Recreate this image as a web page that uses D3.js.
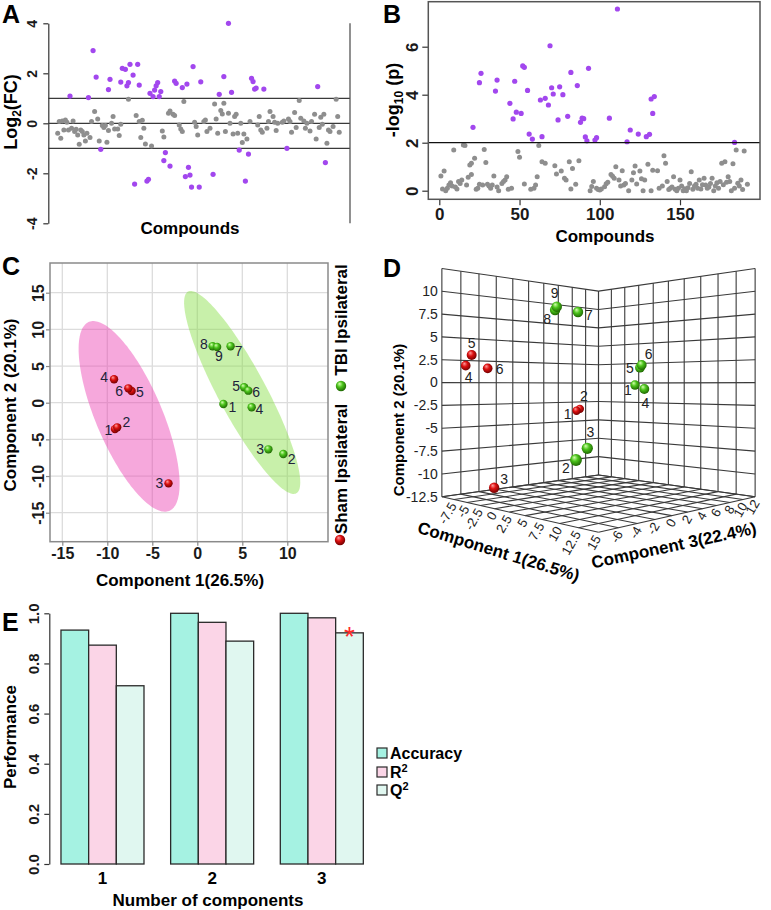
<!DOCTYPE html>
<html><head><meta charset="utf-8">
<script src="https://cdn.jsdelivr.net/npm/d3@7"></script>
<style>
body{margin:0;background:#fff;}
svg text{font-family:"Liberation Sans",Arial,sans-serif;}
</style></head><body>
<svg id="fig" width="771" height="910"></svg>
<script>
// ================= DATA =================
// Panel A: log2 fold change per compound [compound index, log2FC]
const aPurple = [[13,1.09],[28,2.91],[30,1.85],[25,1.03],[33,-1.04],[39,1.76],[38,1.35],[47,2.2],[49,2.16],[46,1.65],[52,2.36],[57,2.36],[54,1.93],[51,1.63],[50,1.5],[58,1.53],[55,-2.43],[63,-2.31],[64,-2.24],[65,1.2],[67,1.07],[68,1.33],[69,1.5],[70,1.63],[72,1.27],[71,1.07],[75,-1.17],[74,-1.49],[78,-1.71],[81,1.69],[82,1.6],[86,1.43],[89,1.57],[93,2.27],[90,-1.76],[88,-2.13],[91,-2.07],[92,-2.55],[97,-2.55],[98,1.66],[106,-2.04],[116,4.0],[113,1.87],[110,1.16],[118,1.24],[123,-1.07],[129,-1.23],[127,-2.31],[131,1.8],[132,1.67],[133,1.37],[134,1.41],[139,1.37],[154,-1.0],[174,1.47],[179,-1.57]];
const aGray = [[5,-0.4],[7,-0.6],[6,0.07],[8,0.09],[10,0.13],[11,0.04],[9,-0.27],[12,-0.27],[14,-0.2],[15,0.09],[16,-0.33],[17,-0.24],[18,-0.47],[19,-0.84],[20,-0.27],[21,-0.33],[22,-0.47],[23,-0.71],[24,-0.4],[26,-0.57],[27,0.07],[29,0.47],[31,0.17],[32,-0.71],[34,-0.09],[35,-0.17],[36,-0.09],[37,-0.76],[38,-0.29],[40,0.0],[41,0.27],[42,-0.23],[44,-0.23],[45,-0.49],[46,-0.04],[51,0.96],[56,0.31],[58,0.07],[60,0.12],[59,-0.57],[61,-0.2],[62,-0.83],[66,-0.91],[73,-0.31],[74,-0.55],[77,0.4],[78,0.49],[80,0.36],[81,0.31],[84,-0.07],[85,-0.23],[86,-0.33],[87,0.87],[94,0.04],[95,-0.13],[96,-0.47],[100,0.07],[101,0.13],[102,-0.33],[104,-0.2],[107,0.77],[108,0.17],[109,-0.4],[111,0.51],[113,0.8],[112,0.37],[114,-0.33],[116,0.4],[117,0.0],[120,0.27],[121,0.36],[119,-0.43],[122,-0.4],[125,-0.77],[124,0.0],[126,-0.43],[128,-0.63],[130,0.07],[135,-0.07],[136,0.27],[137,-0.27],[138,-0.36],[141,-0.2],[143,0.47],[142,0.07],[145,0.27],[146,0.04],[147,-0.29],[148,0.0],[151,0.04],[152,0.09],[155,0.17],[156,0.07],[157,-0.36],[159,0.43],[160,-0.17],[162,0.91],[163,0.2],[165,0.09],[166,-0.2],[167,0.0],[169,-0.31],[170,0.07],[172,0.36],[173,-0.63],[175,-0.17],[176,0.24],[178,0.36],[177,-0.04],[180,-0.8],[181,-0.27],[182,-0.33],[184,-0.13],[186,0.96],[187,0.27],[188,-0.36]];
const aThresholds = [-1, 0, 1];
const aTicks = [-4, -2, 0, 2, 4];

// Panel B: -log10(p) per compound [compound index, -log10 p]
const bPurple = [[21,2.64],[25,4.5],[26,4.89],[36,4.61],[35,4.15],[44,3.64],[46,2.99],[48,3.27],[47,4.56],[51,3.22],[52,5.2],[53,5.14],[55,4.18],[56,2.36],[58,2.15],[63,3.78],[64,2.25],[66,3.85],[68,3.57],[69,6.04],[70,4.29],[71,4.03],[74,2.95],[75,4.33],[77,4.0],[80,3.1],[82,4.93],[86,4.38],[89,3.02],[90,3.0],[88,2.85],[93,5.1],[91,2.24],[92,2.08],[97,2.11],[98,2.21],[106,3.02],[111,7.57],[117,2.04],[119,2.53],[124,2.36],[129,2.25],[131,2.35],[132,3.82],[134,3.92],[133,3.22],[184,2.01]];
const bGray = [[1,0.61],[3,0.82],[2,0.07],[4,0.0],[6,0.24],[7,0.33],[9,1.7],[8,0.2],[11,0.07],[12,0.38],[14,0.45],[15,1.9],[16,1.88],[17,0.24],[18,0.56],[19,1.07],[20,0.68],[20,1.14],[22,1.35],[23,0.06],[25,0.27],[27,0.24],[28,1.72],[29,1.17],[30,0.27],[32,0.1],[34,0.61],[33,0.24],[37,0.0],[39,0.3],[40,0.38],[41,0.45],[42,0.58],[43,0.06],[49,1.63],[50,1.39],[53,0.28],[57,0.06],[60,0.24],[61,0.58],[62,1.88],[64,1.21],[66,1.14],[72,1.04],[73,0.7],[76,0.82],[78,0.52],[79,0.45],[81,1.21],[83,0.93],[85,0.27],[87,1.25],[82,0.07],[94,0.0],[95,0.17],[96,0.38],[100,0.03],[101,0.07],[103,0.16],[104,0.29],[107,0.68],[109,0.52],[110,1.0],[112,0.45],[114,0.83],[115,0.24],[118,0.0],[120,0.45],[121,0.75],[122,1.03],[123,0.28],[125,0.82],[127,0.0],[128,0.45],[130,1.1],[132,0.0],[136,0.83],[137,0.1],[140,1.46],[141,1.14],[142,0.38],[144,0.1],[146,0.58],[147,0.06],[148,0.0],[150,0.45],[152,0.0],[154,0.0],[157,0.79],[158,0.06],[160,0.27],[162,0.45],[163,0.07],[165,0.52],[166,0.24],[168,0.15],[170,0.52],[171,0.0],[173,0.33],[175,0.38],[176,1.14],[178,1.21],[180,0.58],[181,0.38],[182,0.0],[183,1.12],[185,1.7],[186,0.31],[188,0.45],[190,1.65],[192,0.27],[5,0.1],[10,0.15],[13,0.3],[24,0.1],[31,0.2],[36,0.15],[45,0.1],[59,0.1],[98,0.1],[99,0.05],[105,0.35],[108,0.6],[113,0.2],[116,0.3],[126,0.5],[133,0.85],[139,0.2],[143,0.05],[145,0.15],[149,0.1],[151,0.2],[153,0.08],[155,0.12],[156,0.3],[159,0.2],[161,0.1],[164,0.25],[167,0.1],[169,0.3],[172,0.2],[174,0.1],[177,0.25],[179,0.35],[184,0.1],[187,0.2],[189,0.05]];
const bThreshold = 2;
const bXTicks = [0, 50, 100, 150];
const bYTicks = [0, 2, 4, 6];

// Panel C: 2D scores
const shamIds = ["1","2","3","4","5","6"];
const shamPC1 = [-9.15, -8.9, -3.2, -9.25, -7.3, -7.66];
const shamPC2 = [-3.6, -3.36, -11.0, 3.2, 1.6, 1.96];
const tbiIds = ["1","2","3","4","5","6","7","8","9"];
const tbiPC1 = [2.9, 9.56, 7.9, 6.04, 5.2, 5.67, 3.7, 1.7, 2.2];
const tbiPC2 = [-0.18, -7.0, -6.36, -0.63, 2.1, 1.64, 7.7, 7.7, 7.6];
const cTicks = [-15, -10, -5, 0, 5, 10, 15];
const groupNames = ["Sham Ipsilateral", "TBI Ipsilateral"];

// Panel D: 3D scores (component 1, 2, 3) read from the 3D view
const dShamC1 = [-9.15, -8.9, -3.1, -9.25, -7.3, -7.66];
const dShamC2 = [-3.6, -3.36, -11.0, 1.89, 3.0, 1.6];
const dShamC3 = [8.0, 8.3, -6.24, -5.87, -6.27, -4.33];
const dTbiC1 = [2.9, 9.56, 7.9, 6.04, 5.2, 5.67, 3.7, 1.7, 2.2];
const dTbiC2 = [-0.27, -7.12, -6.37, -0.7, 1.65, 1.94, 7.3, 7.55, 7.84];
const dTbiC3 = [6.58, -6.05, -3.58, 5.03, 5.2, 5.01, -1.44, -2.64, -2.8];
const dXTicks = [-7.5, -5, -2.5, 0, 2.5, 5, 7.5, 10, 12.5, 15];
const dYTicks = [-12.5, -10, -7.5, -5, -2.5, 0, 2.5, 5, 7.5, 10];
const dZTicks = [-6, -4, -2, 0, 2, 4, 6, 8, 10, 12];

// Panel E: performance
const eComponents = ["1", "2", "3"];
const eMeasures = ["Accuracy", "R2", "Q2"];
const eAccuracy = [0.933, 1.0, 1.0];
const eR2 = [0.873, 0.964, 0.982];
const eQ2 = [0.711, 0.889, 0.922];
const eTicks = [0, 0.2, 0.4, 0.6, 0.8, 1.0];

// ================= DRAW =================
const svg = d3.select("#fig");
const defs = svg.append("defs");
const PURPLE = "#a247ee", GRAY = "#8e8e8e", INK = "#1a1a1a";

function sphereGrad(id, light, mid, dark) {
  const g = defs.append("radialGradient").attr("id", id)
    .attr("cx", "45%").attr("cy", "42%").attr("r", "60%").attr("fx", "35%").attr("fy", "28%");
  g.append("stop").attr("offset", "0%").attr("stop-color", light);
  g.append("stop").attr("offset", "45%").attr("stop-color", mid);
  g.append("stop").attr("offset", "100%").attr("stop-color", dark);
}
sphereGrad("gRed", "#ff9d9d", "#dd1010", "#6e0000");
sphereGrad("gGreen", "#d6ffb0", "#4cc41c", "#1c6300");

function panelLabel(t, x, y) {
  svg.append("text").attr("x", x).attr("y", y).text(t)
    .style("font-size", "25px").style("font-weight", "bold").attr("fill", "#000");
}
function styleAxis(g, fs) {
  g.select(".domain").attr("stroke", "#333").attr("stroke-width", 1.2);
  g.selectAll(".tick line").attr("stroke", "#333").attr("stroke-width", 1.2);
  g.selectAll(".tick text").style("font-size", fs + "px").style("font-weight", "bold").attr("fill", INK);
}
function rotY(g, offset) {
  g.selectAll(".tick text").attr("transform", "rotate(-90)").attr("x", 0).attr("y", -offset)
    .attr("dy", 0).attr("text-anchor", "middle");
}
const fmt = d => String(d);

// ---------- Panel A ----------
{
  const g = svg.append("g");
  const x = d3.scaleLinear().domain([0, 195]).range([50, 350]);
  const y = d3.scaleLinear().domain([-4, 4]).range([223.3, 23.3]);
  const ax = g.append("g").attr("transform", "translate(48.3,0)")
    .call(d3.axisLeft(y).tickValues(aTicks).tickFormat(fmt).tickSize(5).tickSizeOuter(0));
  styleAxis(ax, 14); rotY(ax, 11);
  g.selectAll("line.thr").data(aThresholds).join("line")
    .attr("x1", 48.3).attr("x2", 350).attr("y1", d => y(d)).attr("y2", d => y(d))
    .attr("stroke", "#3a3a3a").attr("stroke-width", 1.3);
  g.append("line").attr("x1", 350).attr("x2", 350).attr("y1", y(4)).attr("y2", y(-4))
    .attr("stroke", "#555").attr("stroke-width", 1.3);
  g.selectAll("circle.gr").data(aGray).join("circle")
    .attr("cx", d => x(d[0])).attr("cy", d => y(d[1])).attr("r", 2.5).attr("fill", GRAY);
  g.selectAll("circle.pu").data(aPurple).join("circle")
    .attr("cx", d => x(d[0])).attr("cy", d => y(d[1])).attr("r", 2.6).attr("fill", PURPLE);
  const yl = g.append("text").attr("transform", "translate(17,112) rotate(-90)").attr("text-anchor", "middle")
    .style("font-size", "18px").style("font-weight", "bold");
  yl.append("tspan").text("Log");
  yl.append("tspan").text("2").style("font-size", "12px").attr("dy", 4);
  yl.append("tspan").text("(FC)").attr("dy", -4);
  g.append("text").attr("x", 190).attr("y", 234).attr("text-anchor", "middle").text("Compounds")
    .style("font-size", "17px").style("font-weight", "bold");
  panelLabel("A", 2, 23);
}

// ---------- Panel B ----------
{
  const g = svg.append("g");
  const x = d3.scaleLinear().domain([0, 150]).range([439.3, 680]);
  const y = d3.scaleLinear().domain([0, 6]).range([190.7, 46.7]);
  const L = 428.3, R = 760, T = 1.7, B = 199.3;
  const axx = g.append("g").attr("transform", `translate(0,${B})`)
    .call(d3.axisBottom(x).tickValues(bXTicks).tickFormat(fmt).tickSize(6).tickSizeOuter(0));
  styleAxis(axx, 17); axx.select(".domain").remove();
  axx.selectAll(".tick text").attr("y", 9);
  const axy = g.append("g").attr("transform", `translate(${L},0)`)
    .call(d3.axisLeft(y).tickValues(bYTicks).tickFormat(fmt).tickSize(6).tickSizeOuter(0));
  styleAxis(axy, 17); axy.select(".domain").remove(); rotY(axy, 10);
  g.selectAll("circle.gr").data(bGray).join("circle")
    .attr("cx", d => x(d[0])).attr("cy", d => y(d[1])).attr("r", 2.5).attr("fill", GRAY);
  g.selectAll("circle.pu").data(bPurple).join("circle")
    .attr("cx", d => x(d[0])).attr("cy", d => y(d[1])).attr("r", 2.6).attr("fill", PURPLE);
  g.append("line").attr("x1", L).attr("x2", R).attr("y1", y(bThreshold)).attr("y2", y(bThreshold))
    .attr("stroke", "#111").attr("stroke-width", 1.3);
  g.append("rect").attr("x", L).attr("y", T).attr("width", R - L).attr("height", B - T)
    .attr("fill", "none").attr("stroke", "#555").attr("stroke-width", 1.5);
  const yl = g.append("text").attr("transform", "translate(399,100) rotate(-90)").attr("text-anchor", "middle")
    .style("font-size", "18px").style("font-weight", "bold");
  yl.append("tspan").text("-log");
  yl.append("tspan").text("10").style("font-size", "12px").attr("dy", 4);
  yl.append("tspan").text(" (p)").attr("dy", -4);
  g.append("text").attr("x", 605).attr("y", 242).attr("text-anchor", "middle").text("Compounds")
    .style("font-size", "17px").style("font-weight", "bold");
  panelLabel("B", 383, 23);
}

// ---------- Panel C ----------
{
  const g = svg.append("g");
  const x = d3.scaleLinear().domain([0, 10]).range([197.3, 287.3]);
  const y = d3.scaleLinear().domain([0, 15]).range([402.7, 292.7]);
  const L = 50, R = 328, T = 263, B = 541.7;
  g.append("rect").attr("x", L).attr("y", T).attr("width", R - L).attr("height", B - T).attr("fill", "#fff");
  g.selectAll("line.gx").data(cTicks.filter(t => x(t) > L && x(t) < R)).join("line")
    .attr("x1", d => x(d)).attr("x2", d => x(d)).attr("y1", T).attr("y2", B)
    .attr("stroke", "#dcdcdc").attr("stroke-width", 1.3);
  g.selectAll("line.gy").data(cTicks).join("line")
    .attr("x1", L).attr("x2", R).attr("y1", d => y(d)).attr("y2", d => y(d))
    .attr("stroke", "#dcdcdc").attr("stroke-width", 1.3);

  const groups = [
    {pc1: shamPC1, pc2: shamPC2, fill: "rgb(235,62,177)"},
    {pc1: tbiPC1, pc2: tbiPC2, fill: "rgb(133,222,66)"}
  ];
  const t95 = Math.sqrt(5.991);
  groups.forEach(gr => {
    const n = gr.pc1.length;
    const mx = d3.mean(gr.pc1), my = d3.mean(gr.pc2);
    let sxx = 0, syy = 0, sxy = 0;
    for (let i = 0; i < n; i++) {
      const dx = gr.pc1[i] - mx, dy = gr.pc2[i] - my;
      sxx += dx * dx; syy += dy * dy; sxy += dx * dy;
    }
    sxx /= n - 1; syy /= n - 1; sxy /= n - 1;
    const tr = sxx + syy, det = sxx * syy - sxy * sxy;
    const disc = Math.sqrt(tr * tr / 4 - det);
    const l1 = tr / 2 + disc, l2 = tr / 2 - disc;
    let v1 = [sxy, l1 - sxx];
    const nv = Math.hypot(v1[0], v1[1]); v1 = [v1[0] / nv, v1[1] / nv];
    const v2 = [-v1[1], v1[0]];
    const pts = d3.range(0, 2 * Math.PI + 0.001, Math.PI / 90).map(th => {
      const a = t95 * Math.sqrt(l1) * Math.cos(th), b = t95 * Math.sqrt(l2) * Math.sin(th);
      return [x(mx + a * v1[0] + b * v2[0]), y(my + a * v1[1] + b * v2[1])];
    });
    g.append("path").attr("d", d3.line()(pts) + "Z").attr("fill", gr.fill).attr("fill-opacity", 0.45);
  });

  g.append("rect").attr("x", L).attr("y", T).attr("width", R - L).attr("height", B - T)
    .attr("fill", "none").attr("stroke", "#8a8a8a").attr("stroke-width", 1.5);
  const axx = g.append("g").attr("transform", `translate(0,${B})`)
    .call(d3.axisBottom(x).tickValues(cTicks.filter(t => x(t) > L && x(t) < R)).tickFormat(fmt).tickSize(4).tickSizeOuter(0));
  styleAxis(axx, 16); axx.select(".domain").remove();
  axx.selectAll(".tick line").attr("stroke", "#888");
  axx.selectAll(".tick text").attr("y", 6);
  const axy = g.append("g").attr("transform", `translate(${L},0)`)
    .call(d3.axisLeft(y).tickValues(cTicks).tickFormat(fmt).tickSize(4).tickSizeOuter(0));
  styleAxis(axy, 16); axy.select(".domain").remove(); rotY(axy, 6);
  axy.selectAll(".tick line").attr("stroke", "#888");

  const shamLab = [[-6.5,1.3],[9.3,-5],[-9,0],[-10,-2.7],[8.3,1.3],[-9.3,2.3]];
  const tbiLab = [[9,3.3],[8.3,5.3],[-8.3,0],[7.7,2],[-8,-1.7],[7.7,1],[8,4.7],[-8.7,-2],[1.7,9.3]];
  const sham = shamIds.map((id, i) => ({id, x: shamPC1[i], y: shamPC2[i], off: shamLab[i], grad: "gRed"}));
  const tbi = tbiIds.map((id, i) => ({id, x: tbiPC1[i], y: tbiPC2[i], off: tbiLab[i], grad: "gGreen"}));
  const all = sham.concat(tbi);
  g.selectAll("circle.pt").data(all).join("circle")
    .attr("cx", d => x(d.x)).attr("cy", d => y(d.y)).attr("r", 4.2).attr("fill", d => `url(#${d.grad})`);
  g.selectAll("text.lb").data(all).join("text")
    .attr("x", d => x(d.x) + d.off[0]).attr("y", d => y(d.y) + d.off[1]).attr("dy", "0.36em")
    .attr("text-anchor", "middle").text(d => d.id)
    .style("font-size", "14px").attr("fill", "#20223a");

  g.append("text").attr("transform", "translate(16,405) rotate(-90)").attr("text-anchor", "middle")
    .text("Component 2 (20.1%)").style("font-size", "17px").style("font-weight", "bold");
  g.append("text").attr("x", 180).attr("y", 586).attr("text-anchor", "middle")
    .text("Component 1(26.5%)").style("font-size", "17px").style("font-weight", "bold");
  // legend (rotated)
  g.append("circle").attr("cx", 340).attr("cy", 540).attr("r", 5.2).attr("fill", "url(#gRed)");
  g.append("text").attr("transform", "translate(347,469) rotate(-90)").attr("text-anchor", "middle")
    .text(groupNames[0]).style("font-size", "17px").style("font-weight", "bold");
  g.append("circle").attr("cx", 341).attr("cy", 386).attr("r", 5.2).attr("fill", "url(#gGreen)");
  g.append("text").attr("transform", "translate(347,320) rotate(-90)").attr("text-anchor", "middle")
    .text(groupNames[1]).style("font-size", "17px").style("font-weight", "bold");
  panelLabel("C", 2, 275);
}

// ---------- Panel D ----------
{
  const g = svg.append("g");
  const sx = d3.scaleLinear().domain([-10, 15]).range([0, 1]);
  const sy = d3.scaleLinear().domain([-12.5, 12.5]).range([0, 1]);
  const sz = d3.scaleLinear().domain([-8, 12]).range([0, 1]);
  const cam = {cx: 598.5, cy: 385.1, fx: 649, fy: 669, dB: 3.637, hc: 0.489};
  const S = Math.SQRT1_2;
  function P(X, Y, Z) {
    const a = sx(X), c = sz(Z), h = sy(Y);
    const l = S * (a + c - 1), d = cam.dB - S + S * (c - a);
    return {x: cam.cx + cam.fx * l / d, y: cam.cy - cam.fy * (h - cam.hc) / d, d};
  }
  const xg = d3.range(-10, 15.01, 2.5), yg = d3.range(-12.5, 12.51, 2.5), zg = d3.range(-8, 12.01, 2);
  const segs = [];
  zg.forEach(z => segs.push([[-10, -12.5, z], [-10, 12.5, z]]));
  yg.forEach(yv => segs.push([[-10, yv, -8], [-10, yv, 12]]));
  xg.forEach(xv => segs.push([[xv, -12.5, 12], [xv, 12.5, 12]]));
  yg.forEach(yv => segs.push([[-10, yv, 12], [15, yv, 12]]));
  xg.forEach(xv => segs.push([[xv, -12.5, -8], [xv, -12.5, 12]]));
  zg.forEach(z => segs.push([[-10, -12.5, z], [15, -12.5, z]]));
  g.selectAll("line.grid").data(segs).join("line")
    .attr("x1", s => P(...s[0]).x).attr("y1", s => P(...s[0]).y)
    .attr("x2", s => P(...s[1]).x).attr("y2", s => P(...s[1]).y)
    .attr("stroke", "#3a3a3a").attr("stroke-width", 1.1);

  // tick labels
  g.selectAll("text.yt").data(dYTicks).join("text")
    .attr("x", v => P(-10, v, -8).x - 4).attr("y", v => P(-10, v, -8).y).attr("dy", "0.35em")
    .attr("text-anchor", "end").text(fmt).style("font-size", "14px").attr("fill", "#222");
  g.selectAll("text.xt").data(dXTicks).join("text")
    .attr("transform", v => { const p = P(v, -12.5, -8); return `translate(${p.x - 1},${p.y + 4}) rotate(-60)`; })
    .attr("text-anchor", "end").attr("dy", "0.35em").text(fmt).style("font-size", "13px").attr("fill", "#222");
  g.selectAll("text.zt").data(dZTicks).join("text")
    .attr("transform", v => { const p = P(15, -12.5, v); return `translate(${p.x + 1},${p.y + 4}) rotate(-60)`; })
    .attr("text-anchor", "end").attr("dy", "0.35em").text(fmt).style("font-size", "13px").attr("fill", "#222");

  const shamOff = [[-9,3],[4,-13],[10,-9],[3,11.5],[0,-12],[12,1]];
  const tbiOff = [[-7,5],[-10,8],[3,-16],[1,14],[-10,0],[7,-11],[11,3],[-8,9],[-2,-14]];
  const pts = [];
  shamIds.forEach((id, i) => pts.push({id, p: P(dShamC1[i], dShamC2[i], dShamC3[i]), off: shamOff[i], grad: "gRed"}));
  tbiIds.forEach((id, i) => pts.push({id, p: P(dTbiC1[i], dTbiC2[i], dTbiC3[i]), off: tbiOff[i], grad: "gGreen"}));
  pts.sort((a, b) => b.p.d - a.p.d);
  g.selectAll("circle.pt").data(pts).join("circle")
    .attr("cx", d => d.p.x).attr("cy", d => d.p.y).attr("r", d => 14.5 / d.p.d)
    .attr("fill", d => `url(#${d.grad})`);
  g.selectAll("text.lb").data(pts).join("text")
    .attr("x", d => d.p.x + d.off[0]).attr("y", d => d.p.y + d.off[1]).attr("dy", "0.36em")
    .attr("text-anchor", "middle").text(d => d.id).style("font-size", "14px").attr("fill", "#222");

  g.append("text").attr("transform", "translate(404,420) rotate(-90)").attr("text-anchor", "middle")
    .text("Component 2 (20.1%)").style("font-size", "15px").style("font-weight", "bold");
  g.append("text").attr("transform", "translate(497,557) rotate(17)").attr("text-anchor", "middle")
    .text("Component 1(26.5%)").style("font-size", "17px").style("font-weight", "bold");
  g.append("text").attr("transform", "translate(675,551) rotate(-12)").attr("text-anchor", "middle")
    .text("Component 3(22.4%)").style("font-size", "17px").style("font-weight", "bold");
  panelLabel("D", 383, 277);
}

// ---------- Panel E ----------
{
  const g = svg.append("g");
  const y = d3.scaleLinear().domain([0, 1]).range([864, 613.3]);
  const x0 = d3.scaleBand().domain(eComponents).range([61 - 13.35, 363.3 + 13.35]).paddingInner(0.243).paddingOuter(0.1215);
  const x1 = d3.scaleBand().domain(eMeasures).range([0, x0.bandwidth()]);
  const vals = {Accuracy: eAccuracy, R2: eR2, Q2: eQ2};
  const colors = {Accuracy: "#a5f2e2", R2: "#fbd5e7", Q2: "#e0f7f0"};
  const bars = [];
  eComponents.forEach((c, i) => eMeasures.forEach(m => bars.push({c, m, v: vals[m][i]})));
  g.selectAll("rect.bar").data(bars).join("rect")
    .attr("x", d => x0(d.c) + x1(d.m)).attr("width", x1.bandwidth())
    .attr("y", d => y(d.v)).attr("height", d => y(0) - y(d.v))
    .attr("fill", d => colors[d.m]).attr("stroke", "#2a2a2a").attr("stroke-width", 1.3);
  const ax = g.append("g").attr("transform", "translate(49.3,0)")
    .call(d3.axisLeft(y).tickValues(eTicks).tickFormat(d3.format(".1f")).tickSize(5).tickSizeOuter(0));
  styleAxis(ax, 15); rotY(ax, 10);
  g.selectAll("text.xl").data(eComponents).join("text")
    .attr("x", d => x0(d) + x0.bandwidth() / 2).attr("y", 884).attr("text-anchor", "middle").text(d => d)
    .style("font-size", "17px").style("font-weight", "bold");
  // marker over the chosen model
  g.append("text").attr("x", x0("3") + x1("Q2") + x1.bandwidth() / 2).attr("y", y(eQ2[2]) + 13)
    .attr("text-anchor", "middle").text("*").style("font-size", "28px").attr("fill", "#ff2a2a");
  g.append("text").attr("transform", "translate(16,737) rotate(-90)").attr("text-anchor", "middle")
    .text("Performance").style("font-size", "17px").style("font-weight", "bold");
  g.append("text").attr("x", 208).attr("y", 906).attr("text-anchor", "middle")
    .text("Number of components").style("font-size", "17px").style("font-weight", "bold");
  // legend
  const legY = {Accuracy: 753, R2: 772, Q2: 790};
  eMeasures.forEach(m => {
    g.append("rect").attr("x", 377).attr("y", legY[m] - 5).attr("width", 10).attr("height", 10)
      .attr("fill", colors[m]).attr("stroke", "#2a2a2a").attr("stroke-width", 1.2);
    const t = g.append("text").attr("x", 390).attr("y", legY[m]).attr("dy", "0.36em")
      .style("font-size", "16px").style("font-weight", "bold");
    if (m === "Accuracy") t.text("Accuracy");
    else {
      t.append("tspan").text(m[0]);
      t.append("tspan").text(m[1]).style("font-size", "11px").attr("dy", -6);
    }
  });
  panelLabel("E", 2, 631);
}
</script>
</body></html>
